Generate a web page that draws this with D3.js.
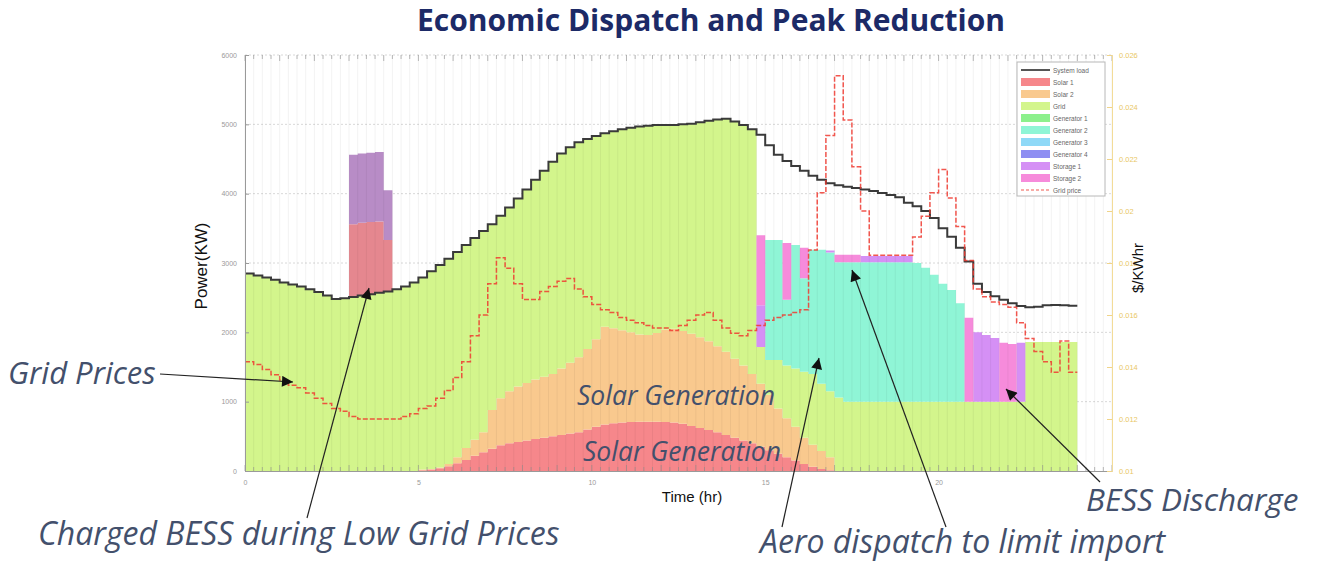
<!DOCTYPE html>
<html>
<head>
<meta charset="utf-8">
<script src="https://cdn.jsdelivr.net/npm/d3@7/dist/d3.min.js"></script>
<style>
  body { margin: 0; background: #fff; }
  svg { display: block; }
</style>
</head>
<body>
<script>
// one value per quarter hour, t = i / 4, i = 0..95

var load = [
  2850, 2820, 2790, 2760,
  2720, 2690, 2660, 2620,
  2580, 2530, 2480, 2490,
  2510, 2530, 2550, 2570,
  2590, 2620, 2660, 2720,
  2790, 2880, 2970, 3060,
  3160, 3260, 3360, 3460,
  3560, 3680, 3800, 3930,
  4060, 4200, 4330, 4460,
  4580, 4670, 4740, 4790,
  4830, 4870, 4900, 4930,
  4950, 4970, 4980, 4990,
  4990, 4990, 5000, 5010,
  5030, 5050, 5070, 5080,
  5040, 4990, 4930, 4850,
  4700, 4560, 4470, 4400,
  4330, 4260, 4200, 4150,
  4120, 4100, 4080, 4060,
  4040, 4010, 3980, 3950,
  3870, 3820, 3750, 3650,
  3500, 3380, 3220, 3020,
  2700, 2580, 2520, 2470,
  2420, 2380, 2360, 2370,
  2390, 2395, 2390, 2385
]

var grid = [
  2850, 2820, 2790, 2760,
  2720, 2690, 2660, 2620,
  2580, 2530, 2480, 2490,
  2510, 2530, 2550, 2570,
  2590, 2620, 2660, 2720,
  2770, 2850, 2920, 2960,
  2960, 2930, 2910, 2900,
  2680, 2630, 2650, 2710,
  2790, 2880, 2970, 3060,
  3100, 3110, 3100, 3030,
  2930, 2790, 2840, 2900,
  2950, 3000, 3020, 3000,
  2950, 2940, 2980, 3030,
  3100, 3180, 3270, 3360,
  3420, 3470, 3530, 530,
  500, 700, 760, 840,
  950, 1020, 970, 950,
  1060, 1000, 1000, 1000,
  1000, 1000, 1000, 1000,
  1000, 1000, 1000, 1000,
  1000, 1000, 1000, 1000,
  1000, 1000, 1000, 1000,
  1000, 1000, 1860, 1860,
  1860, 1860, 1860, 1860
]

var solar1Start = 20
var solar1 = [
  10, 20, 40, 70, 110, 160, 220, 270, 320, 370, 400, 420,
  440, 460, 480, 500, 520, 540, 560, 600, 640, 670, 690, 700,
  705, 710, 710, 710, 705, 700, 680, 650, 620, 590, 560, 520,
  480, 440, 400, 350, 300, 250, 200, 150, 100, 60, 30, 10
]

var solar2Start = 20
var solar2 = [
  10, 10, 10, 30, 90, 170, 230, 290, 560, 680, 750, 800,
  830, 860, 880, 900, 960, 1020, 1080, 1160, 1260, 1410, 1370, 1330,
  1295, 1260, 1250, 1280, 1335, 1350, 1340, 1330, 1310, 1280, 1240, 1200,
  1140, 1080, 1000, 910, 800, 650, 560, 490, 380, 320, 260, 190
]

var gen2Start = 60
var gen2 = [1730, 1730, 950, 1780, 1350, 1790, 1930, 2000, 1950,
  2010, 2010, 2010, 2010, 2010, 2010, 2010, 2010,
  2000, 1930, 1830, 1700, 1610, 1420]

// [index, kW]
var storage1Pts = [[59, 600], [67, 30], [71, 90], [72, 90], [73, 90], [74, 90], [75, 90], [76, 90],
  [84, 1000], [85, 960], [86, 920], [89, 850]]
var storage2Pts = [[59, 1010], [62, 820], [64, 440], [68, 110], [69, 110], [70, 110],
  [83, 1210], [87, 850], [88, 830]]

// BESS charging block on top of the load, 3:00-4:15
var chargeStart = 12
var chargeA = [1050, 1050, 1040, 1030, 740]
var chargeB = [1000, 1000, 1000, 1000, 720]

var price = [
  0.0142, 0.0141, 0.0139, 0.0137,
  0.0135, 0.0133, 0.0132, 0.0130,
  0.0128, 0.0126, 0.0124, 0.0123,
  0.0121, 0.0120, 0.0120, 0.0120,
  0.0120, 0.0120, 0.0121, 0.0122,
  0.0124, 0.0125, 0.0128, 0.0131,
  0.0136, 0.0142, 0.0152, 0.0160,
  0.0172, 0.0182, 0.0178, 0.0172,
  0.0166, 0.0166, 0.0169, 0.0171,
  0.0173, 0.0174, 0.0170, 0.0167,
  0.0164, 0.0162, 0.0161, 0.0159,
  0.0158, 0.0157, 0.0156, 0.0155,
  0.0155, 0.0154, 0.0156, 0.0158,
  0.0160, 0.0161, 0.0158, 0.0155,
  0.0153, 0.0152, 0.0154, 0.0156,
  0.0158, 0.0159, 0.0160, 0.0161,
  0.0162, 0.0185, 0.0207, 0.0229,
  0.0252, 0.0235, 0.0217, 0.0200,
  0.0183, 0.0183, 0.0183, 0.0183,
  0.0183, 0.0190, 0.0198, 0.0207,
  0.0216, 0.0205, 0.0194, 0.0181,
  0.0170, 0.0167, 0.0165, 0.0164,
  0.0163, 0.0157, 0.0151, 0.0146,
  0.0142, 0.0138, 0.0150, 0.0138
]

var leftTicks = [0, 1000, 2000, 3000, 4000, 5000, 6000]
var rightTicks = [0.01, 0.012, 0.014, 0.016, 0.018, 0.02, 0.022, 0.024, 0.026]
var timeTicks = [0, 5, 10, 15, 20]

var legendNames = ['System load', 'Solar 1', 'Solar 2', 'Grid', 'Generator 1', 'Generator 2',
  'Generator 3', 'Generator 4', 'Storage 1', 'Storage 2', 'Grid price']

var colors = {
  solar1: '#f6878b', solar2: '#f9c98e', grid: '#d3f58c',
  gen1: '#8cf08c', gen2: '#8ff5d6', gen3: '#8fd9f7', gen4: '#8e8ef2',
  storage1: '#d590f5', storage2: '#f68bdb',
  chargeA: '#e5878f', chargeB: '#b88cc6'
}

function place(start, vals) {
  var a = d3.range(96).map(function() { return 0 })
  vals.forEach(function(v, k) { a[start + k] = v })
  return a
}
function placePts(pts) {
  var a = d3.range(96).map(function() { return 0 })
  pts.forEach(function(p) { a[p[0]] = p[1] })
  return a
}

var series = {
  solar1: place(solar1Start, solar1),
  solar2: place(solar2Start, solar2),
  grid: grid,
  gen2: place(gen2Start, gen2),
  storage1: placePts(storage1Pts),
  storage2: placePts(storage2Pts),
  chargeA: place(chargeStart, chargeA),
  chargeB: place(chargeStart, chargeB)
}
var keys = ['solar1', 'solar2', 'grid', 'gen2', 'storage1', 'storage2', 'chargeA', 'chargeB']

// rows, with the last step repeated to close it at t = 24
var rows = d3.range(97).map(function(i) {
  var j = Math.min(i, 95)
  var r = { t: i / 4, load: load[j], price: price[j] }
  keys.forEach(function(k) { r[k] = series[k][j] })
  return r
})

var W = 1317, H = 563
var svg = d3.select('body').append('svg').attr('width', W).attr('height', H)
  .style('font-family', 'Liberation Sans, Arial, sans-serif')

var x = d3.scaleLinear().domain([0, 25]).range([245, 1112])
var y = d3.scaleLinear().domain([0, 6000]).range([471, 55])
var yp = d3.scaleLinear().domain([0.01, 0.026]).range([471, 55])

// horizontal grid
svg.append('g').selectAll('line').data(leftTicks.slice(1)).enter().append('line')
  .attr('x1', x(0)).attr('x2', x(25))
  .attr('y1', function(d) { return y(d) }).attr('y2', function(d) { return y(d) })
  .attr('stroke', '#d8d8d8').attr('stroke-dasharray', '2,2')

var stacked = d3.stack().keys(keys)(rows)
var area = d3.area().curve(d3.curveStepAfter)
  .x(function(d) { return x(d.data.t) })
  .y0(function(d) { return y(d[0]) })
  .y1(function(d) { return y(d[1]) })

svg.append('g').selectAll('path').data(stacked).enter().append('path')
  .attr('d', area)
  .attr('fill', function(d) { return colors[d.key] })

// quarter hour vertical grid, over the areas
var quarters = d3.range(0, 100.5).map(function(i) { return i / 4 })
svg.append('g').selectAll('line').data(quarters).enter().append('line')
  .attr('x1', function(d) { return x(d) }).attr('x2', function(d) { return x(d) })
  .attr('y1', y(6000)).attr('y2', y(0))
  .attr('stroke', '#000').attr('stroke-opacity', 0.05)

// minor ticks top and bottom
var ticksG = svg.append('g').attr('stroke', '#8a8a8a').attr('stroke-opacity', 0.6)
ticksG.selectAll('.tb').data(quarters).enter().append('line')
  .attr('x1', function(d) { return x(d) }).attr('x2', function(d) { return x(d) })
  .attr('y1', y(0)).attr('y2', function(d) { return y(0) - (d % 1 === 0 ? 6 : 4) })
ticksG.selectAll('.tt').data(quarters).enter().append('line')
  .attr('x1', function(d) { return x(d) }).attr('x2', function(d) { return x(d) })
  .attr('y1', y(6000)).attr('y2', function(d) { return y(6000) + (d % 1 === 0 ? 6 : 4) })

// load and price
var loadLine = d3.line().curve(d3.curveStepAfter)
  .x(function(d) { return x(d.t) }).y(function(d) { return y(d.load) })
svg.append('path').datum(rows).attr('d', loadLine)
  .attr('fill', 'none').attr('stroke', '#3a3a3a').attr('stroke-width', 2)

var priceLine = d3.line().curve(d3.curveStepAfter)
  .x(function(d) { return x(d.t) }).y(function(d) { return yp(d.price) })
svg.append('path').datum(rows).attr('d', priceLine)
  .attr('fill', 'none').attr('stroke', '#f03a30').attr('stroke-opacity', 0.85)
  .attr('stroke-width', 1.5).attr('stroke-dasharray', '5,2')

// axes
var axL = svg.append('g').attr('transform', 'translate(' + x(0) + ',0)')
  .call(d3.axisLeft(y).tickValues(leftTicks).tickSize(-4).tickPadding(8).tickFormat(d3.format('d')))
axL.select('.domain').attr('stroke', '#9a9a9a')
axL.selectAll('.tick line').attr('stroke', '#9a9a9a')
axL.selectAll('text').attr('fill', '#9a9a9a').style('font-size', '7px')

var axB = svg.append('g').attr('transform', 'translate(0,' + y(0) + ')')
  .call(d3.axisBottom(x).tickValues(timeTicks).tickSize(0).tickPadding(9))
axB.select('.domain').attr('stroke', '#9a9a9a')
axB.selectAll('text').attr('fill', '#9a9a9a').style('font-size', '7px')

var axR = svg.append('g').attr('transform', 'translate(' + x(25) + ',0)')
  .call(d3.axisRight(yp).tickValues(rightTicks).tickSize(-5).tickPadding(7)
    .tickFormat(function(d) { return String(+d.toFixed(3)) }))
axR.select('.domain').attr('stroke', '#f3dc98')
axR.selectAll('.tick line').attr('stroke', '#f0d48a')
axR.selectAll('text').attr('fill', '#e9c766').style('font-size', '7.5px')

// axis titles
svg.append('text').attr('transform', 'translate(207,266) rotate(-90)')
  .attr('text-anchor', 'middle').style('font-size', '17px').attr('fill', '#111')
  .text('Power(KW)')
svg.append('text').attr('transform', 'translate(1143,268) rotate(-90)')
  .attr('text-anchor', 'middle').style('font-size', '15px').attr('fill', '#111')
  .text('$/KWhr')
svg.append('text').attr('x', 692).attr('y', 502)
  .attr('text-anchor', 'middle').style('font-size', '15px').attr('fill', '#111')
  .text('Time (hr)')

// legend
var lg = svg.append('g').attr('transform', 'translate(1017,62)')
lg.append('rect').attr('width', 88).attr('height', 134)
  .attr('fill', '#fff').attr('stroke', '#b8b8b8')
var legendColors = [null, colors.solar1, colors.solar2, colors.grid, colors.gen1, colors.gen2,
  colors.gen3, colors.gen4, colors.storage1, colors.storage2, null]
legendNames.forEach(function(name, i) {
  var cy = 8 + i * 12
  if (i === 0) {
    lg.append('line').attr('x1', 4).attr('x2', 33).attr('y1', cy).attr('y2', cy)
      .attr('stroke', '#555').attr('stroke-width', 2)
  } else if (i === 10) {
    lg.append('line').attr('x1', 4).attr('x2', 33).attr('y1', cy).attr('y2', cy)
      .attr('stroke', '#f05a50').attr('stroke-width', 1.2).attr('stroke-dasharray', '3,2')
  } else {
    lg.append('rect').attr('x', 4).attr('y', cy - 4).attr('width', 29).attr('height', 8)
      .attr('fill', legendColors[i])
  }
  lg.append('text').attr('x', 36).attr('y', cy + 2.5).style('font-size', '6.5px')
    .attr('fill', '#666').text(name)
})

// title
svg.append('text').attr('x', 711).attr('y', 31).attr('text-anchor', 'middle')
  .style('font-family', 'Open Sans, Lato, sans-serif').style('font-weight', 'bold')
  .style('font-size', '30px').attr('fill', '#1c2a67')
  .text('Economic Dispatch and Peak  Reduction')

// annotations
var defs = svg.append('defs')
defs.append('marker').attr('id', 'head').attr('viewBox', '0 0 10 10')
  .attr('refX', 10).attr('refY', 5).attr('markerWidth', 14).attr('markerHeight', 11)
  .attr('markerUnits', 'userSpaceOnUse').attr('orient', 'auto')
  .append('path').attr('d', 'M0,0L10,5L0,10Z').attr('fill', '#111')

var arrows = [
  [160, 374, 293, 382],
  [307, 518, 369, 288],
  [782, 527, 819, 358],
  [946, 527, 852, 270],
  [1100, 482, 1006, 389]
]
svg.append('g').selectAll('line').data(arrows).enter().append('line')
  .attr('x1', function(d) { return d[0] }).attr('y1', function(d) { return d[1] })
  .attr('x2', function(d) { return d[2] }).attr('y2', function(d) { return d[3] })
  .attr('stroke', '#222').attr('stroke-width', 1.2).attr('marker-end', 'url(#head)')

var notes = [
  ['Grid Prices', 8, 384, 31],
  ['Solar Generation', 577, 405, 26.5],
  ['Solar Generation', 583, 461, 26.5],
  ['Charged BESS during Low Grid Prices', 38, 545, 32],
  ['Aero dispatch to limit import', 760, 553, 32],
  ['BESS Discharge', 1086, 511, 31.5]
]
svg.append('g').selectAll('text').data(notes).enter().append('text')
  .attr('x', function(d) { return d[1] }).attr('y', function(d) { return d[2] })
  .style('font-family', 'Open Sans, Lato, sans-serif').style('font-style', 'italic')
  .style('font-size', function(d) { return d[3] + 'px' })
  .attr('fill', '#43506c')
  .text(function(d) { return d[0] })
</script>
</body>
</html>
